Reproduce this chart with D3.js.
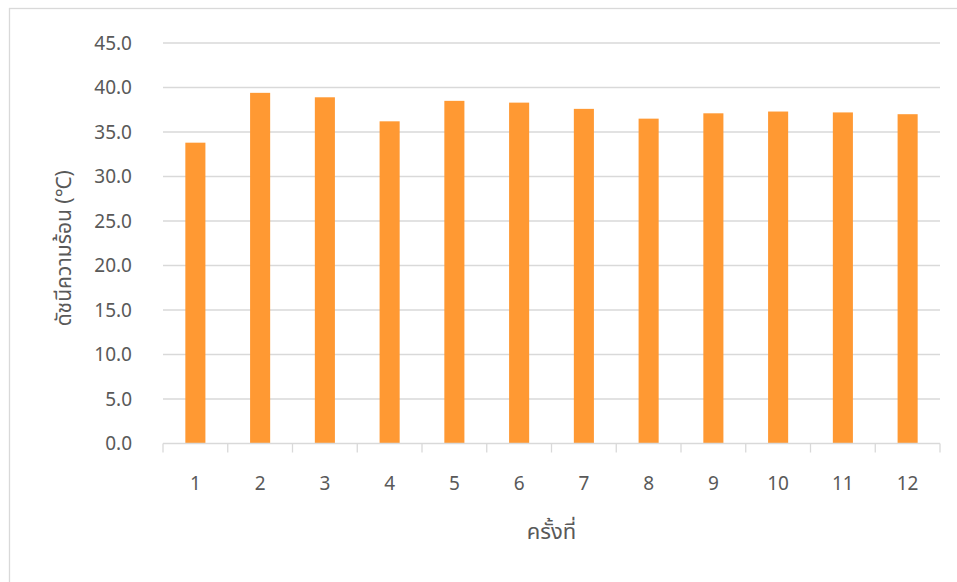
<!DOCTYPE html>
<html>
<head>
<meta charset="utf-8">
<script src="https://cdn.jsdelivr.net/npm/d3@7/dist/d3.min.js"></script>
<style>
  html, body { margin: 0; padding: 0; background: #fff; }
  text { font-family: "Noto Sans Thai", "Leelawadee UI", "Noto Sans", "Open Sans", sans-serif; fill: #595959; }
</style>
</head>
<body>
<div id="chart"></div>
<script>
const CATEGORIES = ["1", "2", "3", "4", "5", "6", "7", "8", "9", "10", "11", "12"];
const HEAT_INDEX = [33.8, 39.4, 38.9, 36.2, 38.5, 38.3, 37.6, 36.5, 37.1, 37.3, 37.2, 37.0];
const Y_TICKS    = [0, 5, 10, 15, 20, 25, 30, 35, 40, 45];
const X_TITLE    = "ครั้งที่";
const Y_TITLE    = "ดัชนีความร้อน (℃)";

const WIDTH  = 957;
const HEIGHT = 582;
const MARGIN = { top: 43, right: 17, bottom: 138.5, left: 163 };

const svg = d3.select("#chart").append("svg")
  .attr("width", WIDTH)
  .attr("height", HEIGHT);

// chart area frame (runs off the right and bottom edge)
svg.append("rect")
  .attr("x", 9.5)
  .attr("y", 8.5)
  .attr("width", WIDTH + 10)
  .attr("height", HEIGHT + 10)
  .attr("fill", "none")
  .attr("stroke", "#d9d9d9")
  .attr("stroke-width", 1.3);

const x = d3.scaleBand()
  .domain(CATEGORIES)
  .range([MARGIN.left, WIDTH - MARGIN.right])
  .paddingInner(0.69)
  .paddingOuter(0.345);

const y = d3.scaleLinear()
  .domain([0, 45])
  .range([HEIGHT - MARGIN.bottom, MARGIN.top]);

// gridlines
svg.append("g")
  .selectAll("line")
  .data(Y_TICKS.filter(d => d > 0))
  .join("line")
  .attr("x1", MARGIN.left)
  .attr("x2", WIDTH - MARGIN.right)
  .attr("y1", d => y(d))
  .attr("y2", d => y(d))
  .attr("stroke", "#d9d9d9")
  .attr("stroke-width", 1.3);

// bars
svg.append("g")
  .selectAll("rect")
  .data(HEAT_INDEX)
  .join("rect")
  .attr("x", (d, i) => x(CATEGORIES[i]))
  .attr("y", d => y(d))
  .attr("width", x.bandwidth())
  .attr("height", d => y(0) - y(d))
  .attr("fill", "#ff9933");

// x axis: ticks between categories
const step = x.step();
const xAxis = svg.append("g")
  .attr("transform", `translate(0,${y(0)})`);

xAxis.append("line")
  .attr("x1", MARGIN.left)
  .attr("x2", WIDTH - MARGIN.right)
  .attr("stroke", "#d9d9d9")
  .attr("stroke-width", 1.3);

xAxis.selectAll("line.tick")
  .data(d3.range(CATEGORIES.length + 1))
  .join("line")
  .attr("class", "tick")
  .attr("x1", i => MARGIN.left + i * step)
  .attr("x2", i => MARGIN.left + i * step)
  .attr("y1", 0)
  .attr("y2", 9)
  .attr("stroke", "#d9d9d9")
  .attr("stroke-width", 1.3);

xAxis.selectAll("text")
  .data(CATEGORIES)
  .join("text")
  .attr("x", d => x(d) + x.bandwidth() / 2)
  .attr("y", 46)
  .attr("text-anchor", "middle")
  .attr("font-size", "19px")
  .text(d => d);

// y axis labels
svg.append("g")
  .selectAll("text")
  .data(Y_TICKS)
  .join("text")
  .attr("x", 132)
  .attr("y", d => y(d))
  .attr("dy", "0.35em")
  .attr("text-anchor", "end")
  .attr("font-size", "19px")
  .text(d => d.toFixed(1));

// axis titles
svg.append("text")
  .attr("x", (MARGIN.left + WIDTH - MARGIN.right) / 2)
  .attr("y", 539)
  .attr("text-anchor", "middle")
  .attr("font-size", "22px")
  .text(X_TITLE);

svg.append("text")
  .attr("transform", `translate(71,${(y(0) + y(45)) / 2 + 5}) rotate(-90)`)
  .attr("text-anchor", "middle")
  .attr("font-size", "21px")
  .text(Y_TITLE);
</script>
</body>
</html>
